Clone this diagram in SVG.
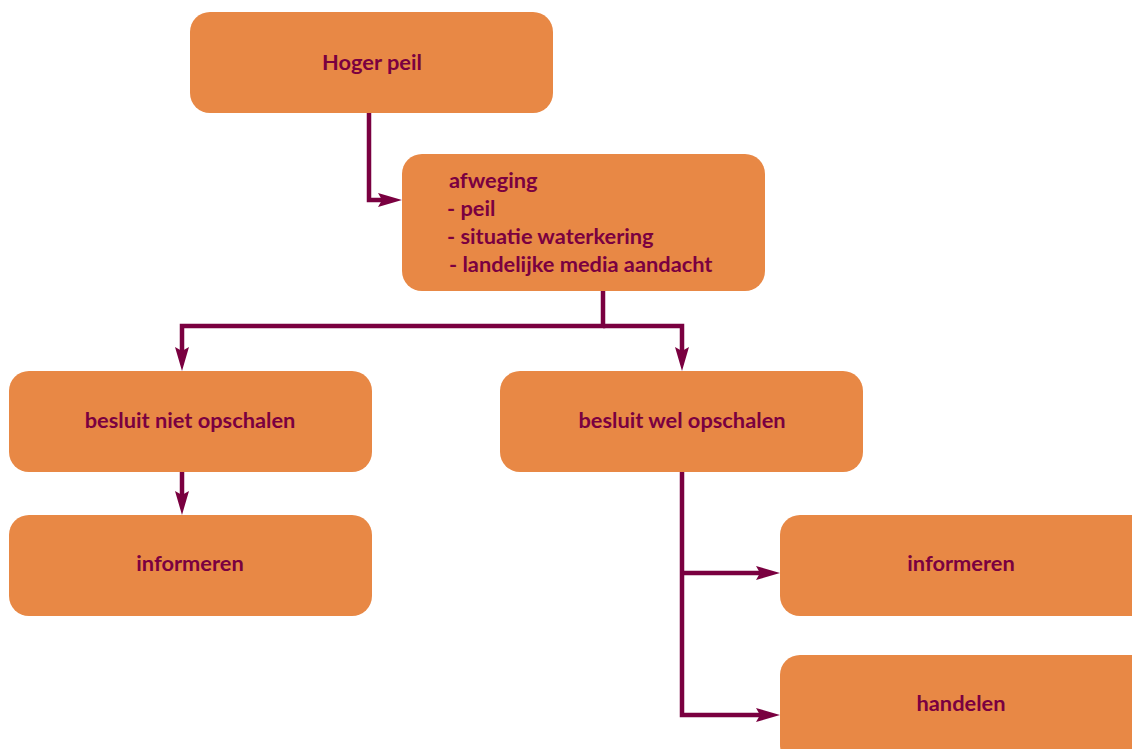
<svg xmlns="http://www.w3.org/2000/svg" width="1132" height="749" viewBox="0 0 1132 749">
<style>
.box{fill:#E88845}
.lbl{font-family:"Lato","Liberation Sans",sans-serif;font-weight:bold;font-size:21.8px;fill:#7A0040}
.c{text-anchor:middle}
.ln{fill:none;stroke:#7A0040;stroke-width:4.5;stroke-linejoin:miter}
</style>
<defs>
<marker id="ah" markerUnits="userSpaceOnUse" markerWidth="26" markerHeight="14" refX="24" refY="7" orient="auto" viewBox="0 0 26 14">
<path d="M0,0 L24,7 L0,14 L4,7 Z" fill="#7A0040"/>
</marker>
</defs>
<rect width="1132" height="749" fill="#fff"/>
<g id="n-hoger"><rect class="box" x="190" y="12" width="363" height="101" rx="20"/><text class="lbl c" x="372" y="70">Hoger peil</text></g>
<g id="n-afweging"><rect class="box" x="402" y="154" width="363" height="137" rx="20"/>
<text class="lbl" x="449" y="188">afweging</text>
<text class="lbl" x="447" y="216">- peil</text>
<text class="lbl" x="447" y="244">- situatie waterkering</text>
<text class="lbl" x="449" y="272">- landelijke media aandacht</text></g>
<g id="n-niet"><rect class="box" x="9" y="371" width="363" height="101" rx="20"/><text class="lbl c" x="190" y="428">besluit niet opschalen</text></g>
<g id="n-wel"><rect class="box" x="500" y="371" width="363" height="101" rx="20"/><text class="lbl c" x="682" y="428">besluit wel opschalen</text></g>
<g id="n-info1"><rect class="box" x="9" y="515" width="363" height="101" rx="20"/><text class="lbl c" x="190" y="571">informeren</text></g>
<g id="n-info2"><rect class="box" x="780" y="515" width="380" height="101" rx="20"/><text class="lbl c" x="961" y="571">informeren</text></g>
<g id="n-handelen"><rect class="box" x="780" y="655" width="380" height="110" rx="20"/><text class="lbl c" x="961" y="711">handelen</text></g>
<g id="connectors">
<path class="ln" d="M369,113 V200 H390"/>
<path class="ln" d="M603,291 V326 H182 V358"/>
<path class="ln" d="M603,326 H682 V358"/>
<path class="ln" d="M182,472 V502"/>
<path class="ln" d="M682,472 V715 H768"/>
<path class="ln" d="M682,573 H768"/>
<path d="M369,200 H402" stroke="none" fill="none" marker-end="url(#ah)"/>
<path d="M182,340 V371" stroke="none" fill="none" marker-end="url(#ah)"/>
<path d="M682,340 V371" stroke="none" fill="none" marker-end="url(#ah)"/>
<path d="M182,490 V515" stroke="none" fill="none" marker-end="url(#ah)"/>
<path d="M740,715 H780" stroke="none" fill="none" marker-end="url(#ah)"/>
<path d="M740,573 H780" stroke="none" fill="none" marker-end="url(#ah)"/>
</g>
</svg>
